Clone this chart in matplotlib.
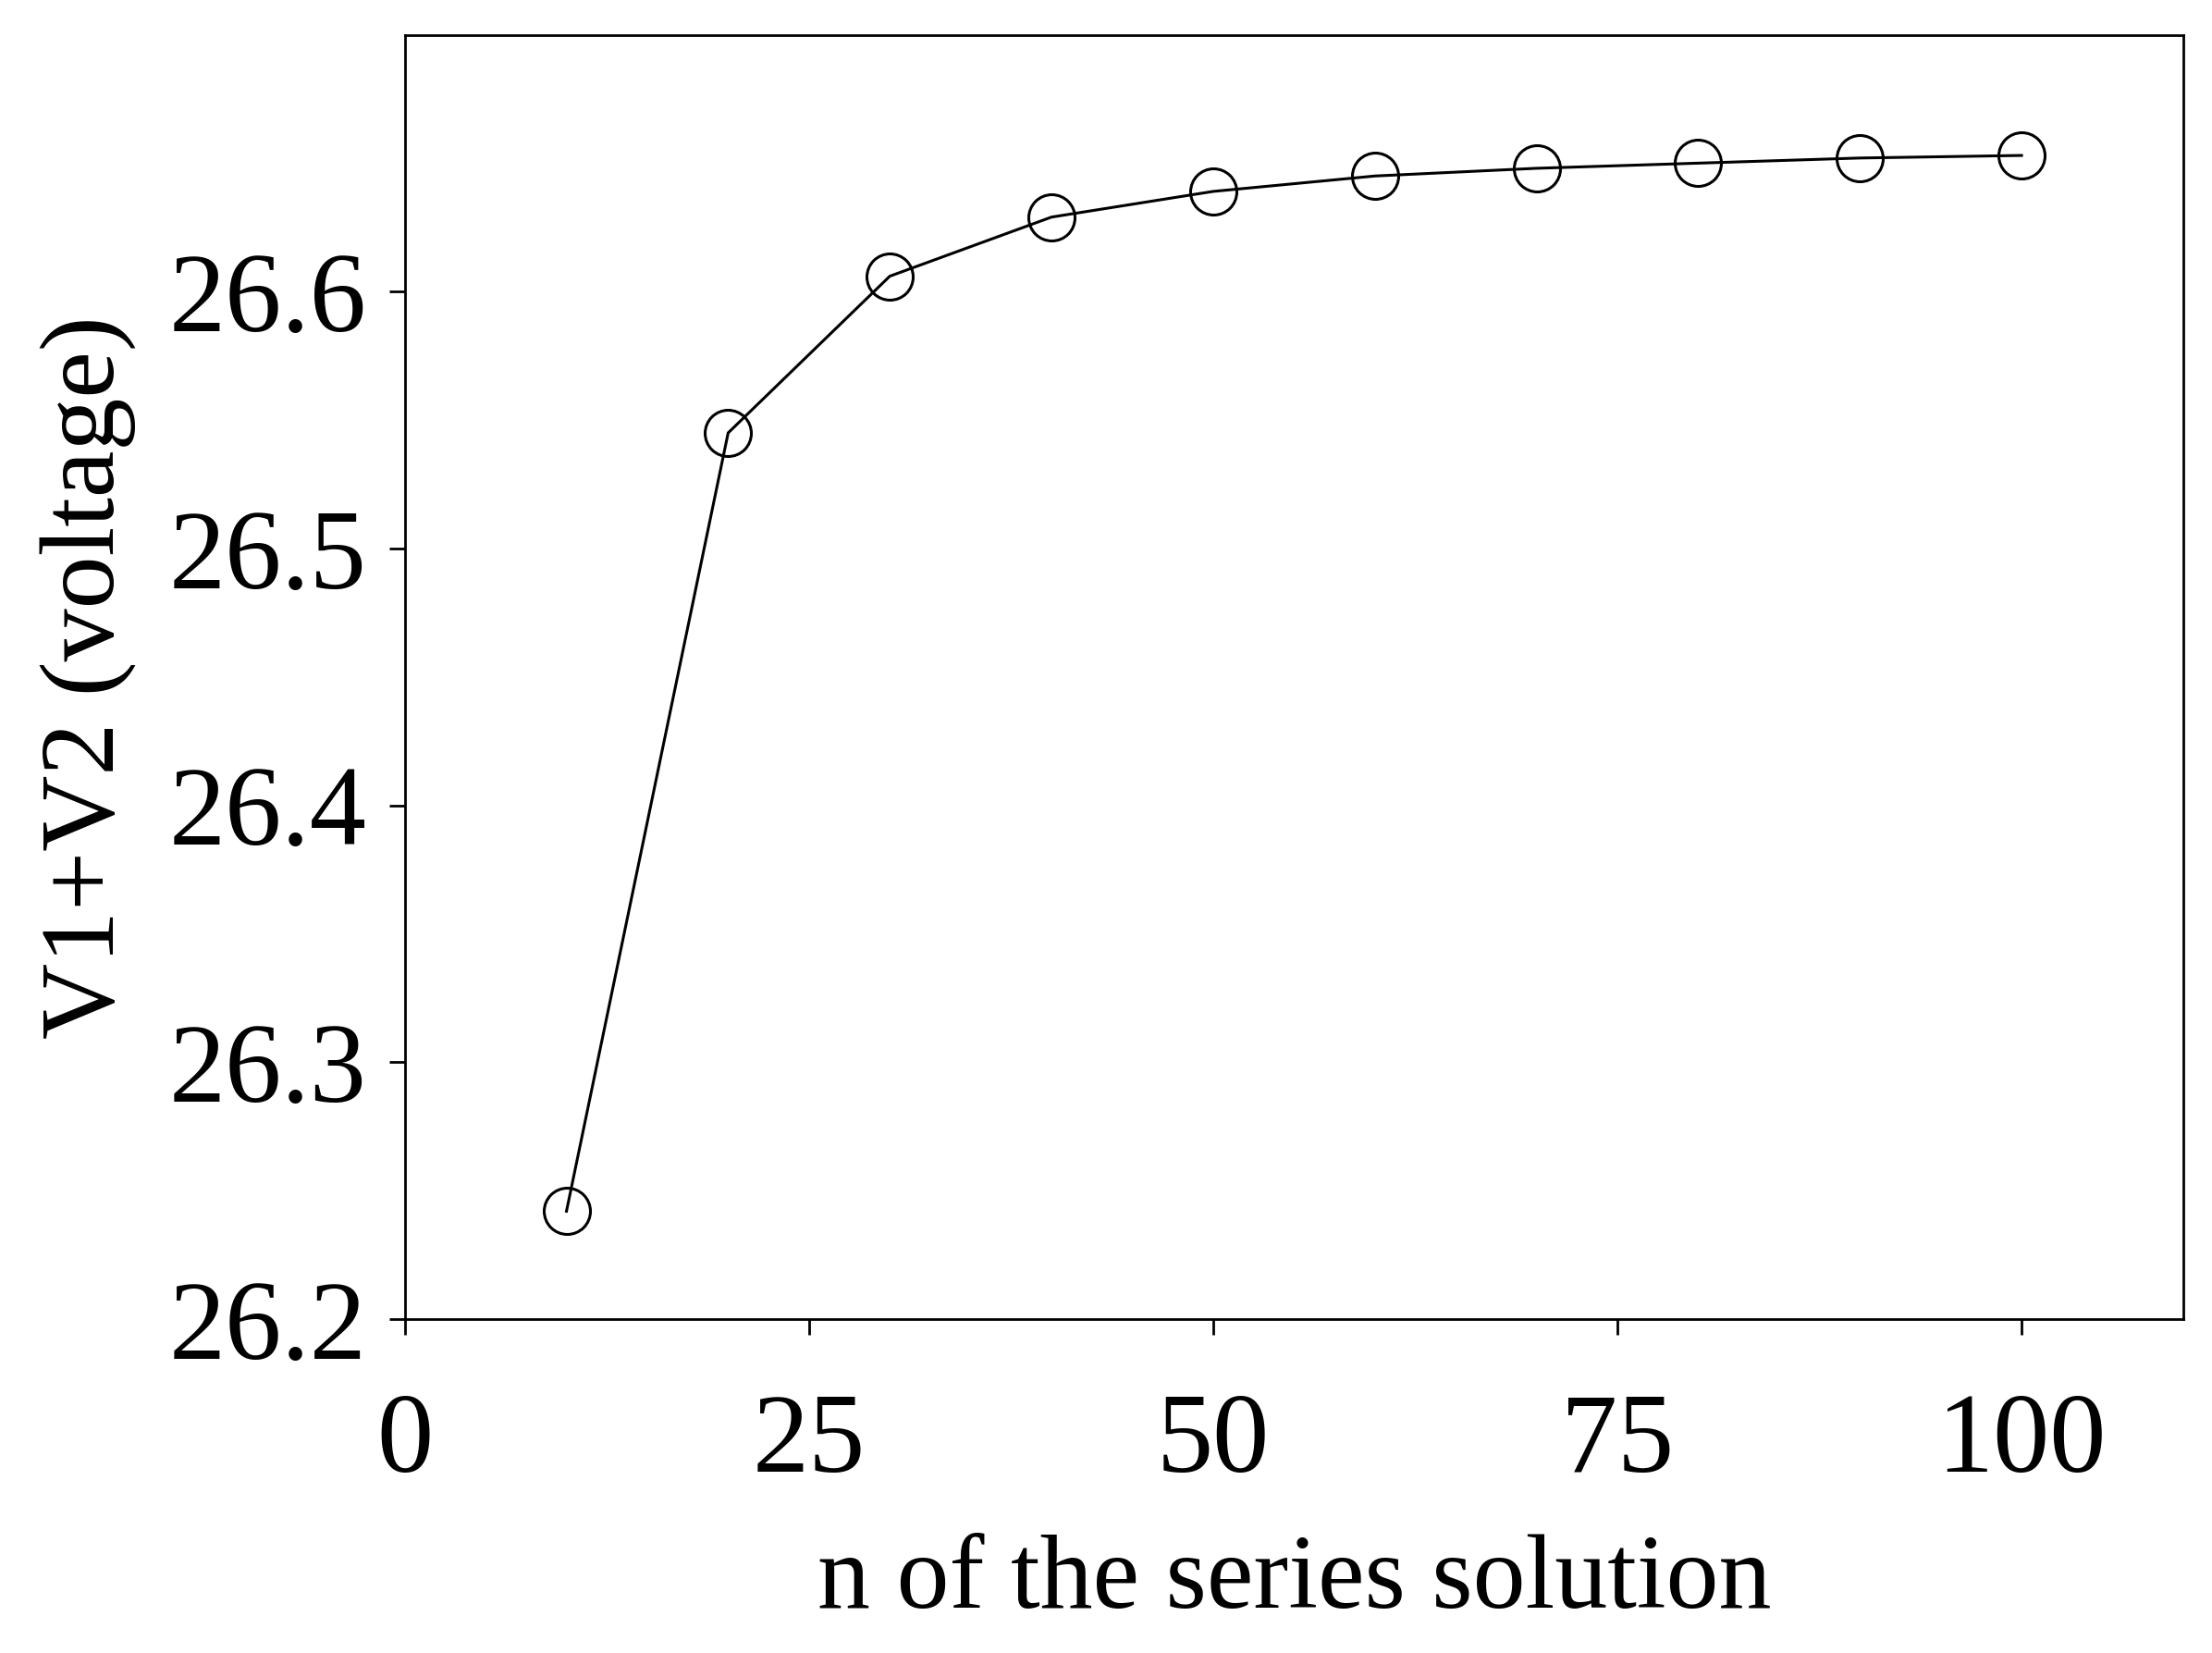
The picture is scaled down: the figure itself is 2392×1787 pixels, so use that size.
import matplotlib
matplotlib.use("Agg")
import matplotlib.pyplot as plt

n_terms = [10, 20, 30, 40, 50, 60, 70, 80, 90, 100]
voltage = [26.242, 26.545, 26.606, 26.629, 26.639, 26.645, 26.648, 26.650, 26.652, 26.653]

plt.rcParams['font.family'] = ['Liberation Serif', 'DejaVu Serif']

fig = plt.figure(figsize=(23.92, 17.87), dpi=100)
ax = fig.add_axes([0.183, 0.202, 0.804, 0.777])

ax.plot(n_terms, voltage, color='black', linewidth=2.2, marker='o', markersize=36,
        markerfacecolor='none', markeredgecolor='black', markeredgewidth=2.2)

ax.set_xlim(0, 110)
ax.set_ylim(26.2, 26.7)
ax.set_xticks([0, 25, 50, 75, 100])
ax.set_yticks([26.2, 26.3, 26.4, 26.5, 26.6])
ax.set_yticklabels(['26.2', '26.3', '26.4', '26.5', '26.6'])
ax.tick_params(direction='out', length=12, width=2, labelsize=88)
ax.tick_params(axis='x', pad=45)
ax.tick_params(axis='y', pad=18)
for s in ax.spines.values():
    s.set_linewidth(2)

ax.set_xlabel('n of the series solution', fontsize=82, labelpad=30)
ax.set_ylabel('V1+V2 (voltage)', fontsize=82, labelpad=25)

fig.savefig('out.png', dpi=100)
